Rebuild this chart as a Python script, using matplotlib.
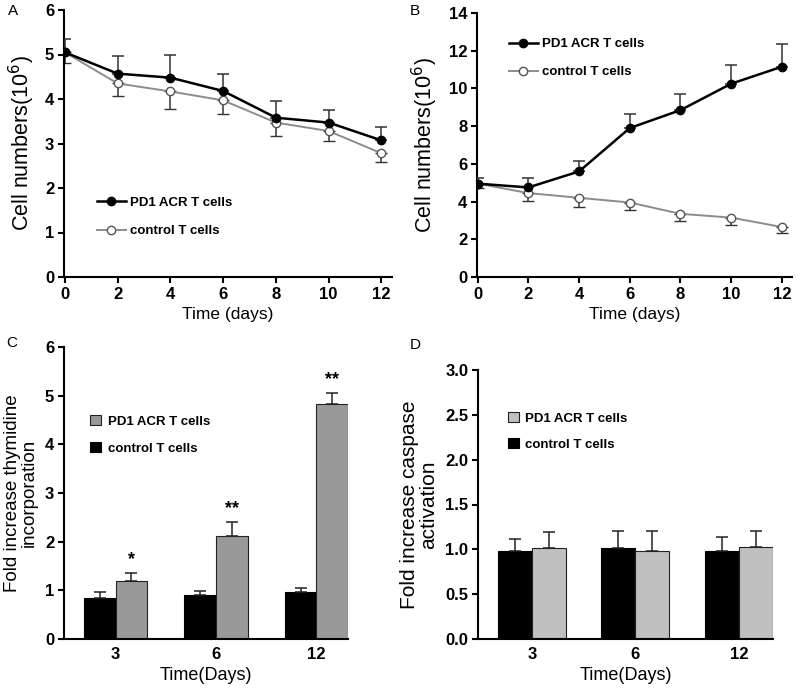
import numpy as np
import matplotlib
matplotlib.use("Agg")
import matplotlib.pyplot as plt
from matplotlib.lines import Line2D

plt.rcParams['font.family'] = ['Liberation Sans', 'DejaVu Sans']

# panel A / B: cell numbers over time
days = [0, 2, 4, 6, 8, 10, 12]
a_pd1 = [5.05, 4.57, 4.48, 4.18, 3.58, 3.47, 3.07]
a_pd1_err = [0.30, 0.40, 0.50, 0.38, 0.37, 0.28, 0.30]
a_ctl = [5.05, 4.35, 4.17, 3.97, 3.47, 3.28, 2.78]
a_ctl_err = [0.25, 0.28, 0.40, 0.30, 0.30, 0.23, 0.20]

b_pd1 = [4.95, 4.75, 5.60, 7.90, 8.85, 10.25, 11.15]
b_pd1_err = [0.30, 0.50, 0.55, 0.75, 0.85, 1.00, 1.20]
b_ctl = [4.95, 4.45, 4.20, 3.95, 3.35, 3.15, 2.65]
b_ctl_err = [0.25, 0.40, 0.50, 0.40, 0.40, 0.40, 0.30]

# panel C / D: bars
bar_days = ['3', '6', '12']
c_ctl = [0.85, 0.90, 0.97]
c_ctl_err = [0.12, 0.08, 0.08]
c_pd1 = [1.20, 2.12, 4.82]
c_pd1_err = [0.15, 0.28, 0.23]
c_stars = ['*', '**', '**']

d_ctl = [0.98, 1.02, 0.98]
d_ctl_err = [0.14, 0.18, 0.16]
d_pd1 = [1.02, 0.98, 1.03]
d_pd1_err = [0.17, 0.22, 0.17]

W, H = 800, 693
fig = plt.figure(figsize=(W / 100, H / 100), dpi=100)


def box(l, r, t, b):
    return [l / W, 1 - b / H, (r - l) / W, (b - t) / H]


def style(ax, xticks=True):
    for s in ['top', 'right']:
        ax.spines[s].set_visible(False)
    for s in ['left', 'bottom']:
        ax.spines[s].set_linewidth(1.5)
    ax.tick_params(axis='y', direction='out', length=4, width=1.5, labelsize=12, pad=3)
    if xticks:
        ax.tick_params(axis='x', direction='out', length=4, width=1.5, labelsize=12, pad=3)
    else:
        ax.tick_params(axis='x', length=0, labelsize=12, pad=6)
    for lab in ax.get_xticklabels() + ax.get_yticklabels():
        lab.set_fontweight('bold')


def lines(ax, pd1, pd1_err, ctl, ctl_err):
    z = [0] * len(days)
    ax.errorbar(days, ctl, yerr=[ctl_err, z], color='#8c8c8c', lw=1.4,
                marker='o', ms=6, mfc='white', mec='#555555', mew=1,
                ecolor='#333333', elinewidth=1.1, capsize=4, capthick=1.1, zorder=2)
    ax.errorbar(days, pd1, yerr=[z, pd1_err], color='black', lw=1.8,
                marker='o', ms=6, mfc='black', mec='black',
                ecolor='#333333', elinewidth=1.1, capsize=4, capthick=1.1, zorder=3)
    ax.set_xlim(-0.03, 12.4)
    ax.set_xticks(days)
    ax.set_xlabel('Time (days)', fontsize=12.5, labelpad=4)
    ax.set_ylabel('Cell numbers(10$^{6}$)', fontsize=15.5, labelpad=6)
    h = [Line2D([], [], color='black', lw=1.8, marker='o', ms=6, mfc='black'),
         Line2D([], [], color='#8c8c8c', lw=1.4, marker='o', ms=6, mfc='white', mec='#555555')]
    return h, ['PD1 ACR T cells', 'control T cells']


# A
axA = fig.add_axes(box(64, 392, 10, 277))
h, l = lines(axA, a_pd1, a_pd1_err, a_ctl, a_ctl_err)
axA.set_ylim(0, 6)
axA.set_yticks(range(0, 7))
style(axA)
axA.legend(h, l, loc='upper left', bbox_to_anchor=(0.08, 0.325), frameon=False,
           prop={'weight': 'bold', 'size': 9.5}, handlelength=2.2, handletextpad=0.3,
           labelspacing=1.2, borderpad=0)

# B
axB = fig.add_axes(box(477, 792, 13, 277))
h, l = lines(axB, b_pd1, b_pd1_err, b_ctl, b_ctl_err)
axB.set_ylim(0, 14)
axB.set_yticks(range(0, 15, 2))
style(axB)
axB.legend(h, l, loc='upper left', bbox_to_anchor=(0.08, 0.93), frameon=False,
           prop={'weight': 'bold', 'size': 9.5}, handlelength=2.2, handletextpad=0.3,
           labelspacing=1.2, borderpad=0)


def bars(ax, ctl, ctl_err, pd1, pd1_err, gray, bw):
    x = np.arange(len(bar_days))
    ax.bar(x - bw / 2, ctl, bw, yerr=[[0] * 3, ctl_err], color='black',
           edgecolor='black', lw=0.8, capsize=4.5,
           error_kw={'elinewidth': 1.1, 'capthick': 1.1, 'ecolor': '#222222'},
           label='control T cells')
    ax.bar(x + bw / 2, pd1, bw, yerr=[[0] * 3, pd1_err], color=gray,
           edgecolor='#222222', lw=0.8, capsize=4.5,
           error_kw={'elinewidth': 1.1, 'capthick': 1.1, 'ecolor': '#222222'},
           label='PD1 ACR T cells')
    ax.set_xticks(x)
    ax.set_xticklabels(bar_days)
    ax.set_xlabel('Time(Days)', fontsize=13, labelpad=3)
    h, l = ax.get_legend_handles_labels()
    return x, h[::-1], l[::-1]


# C
axC = fig.add_axes(box(64, 348, 347, 639))
bw = 0.315
x, h, l = bars(axC, c_ctl, c_ctl_err, c_pd1, c_pd1_err, '#999999', bw)
for xi, v, e, s in zip(x, c_pd1, c_pd1_err, c_stars):
    axC.text(xi + bw / 2, v + e + 0.1, s, ha='center', va='bottom',
             fontsize=13, fontweight='bold')
axC.set_xlim(-0.515, 2.315)
axC.set_ylim(0, 6)
axC.set_yticks(range(0, 7))
axC.set_ylabel('Fold increase thymidine\nincorporation', fontsize=13.5,
               labelpad=5, linespacing=1.0)
style(axC, xticks=False)
axC.legend(h, l, loc='upper left', bbox_to_anchor=(0.07, 0.79), frameon=False,
           prop={'weight': 'bold', 'size': 9.5}, handlelength=0.8, handleheight=0.8,
           handletextpad=0.5, labelspacing=1.1, borderpad=0)

# D
axD = fig.add_axes(box(478, 773, 370, 639))
bw = 0.33
x, h, l = bars(axD, d_ctl, d_ctl_err, d_pd1, d_pd1_err, '#c0c0c0', bw)
axD.set_xlim(-0.52, 2.33)
axD.set_ylim(0, 3)
axD.set_yticks(np.arange(0, 3.01, 0.5))
axD.set_yticklabels(['0.0', '0.5', '1.0', '1.5', '2.0', '2.5', '3.0'])
axD.set_ylabel('Fold increase caspase\nactivation', fontsize=15,
               labelpad=5, linespacing=1.0)
style(axD, xticks=False)
axD.legend(h, l, loc='upper left', bbox_to_anchor=(0.08, 0.868), frameon=False,
           prop={'weight': 'bold', 'size': 9.5}, handlelength=0.8, handleheight=0.8,
           handletextpad=0.5, labelspacing=1.0, borderpad=0)

# panel letters
for t, px, py in [('A', 8, 4), ('B', 410, 4), ('C', 6, 336), ('D', 410, 338)]:
    fig.text(px / W, 1 - py / H, t, fontsize=11, va='top', ha='left')

fig.savefig('out.png', dpi=100)
